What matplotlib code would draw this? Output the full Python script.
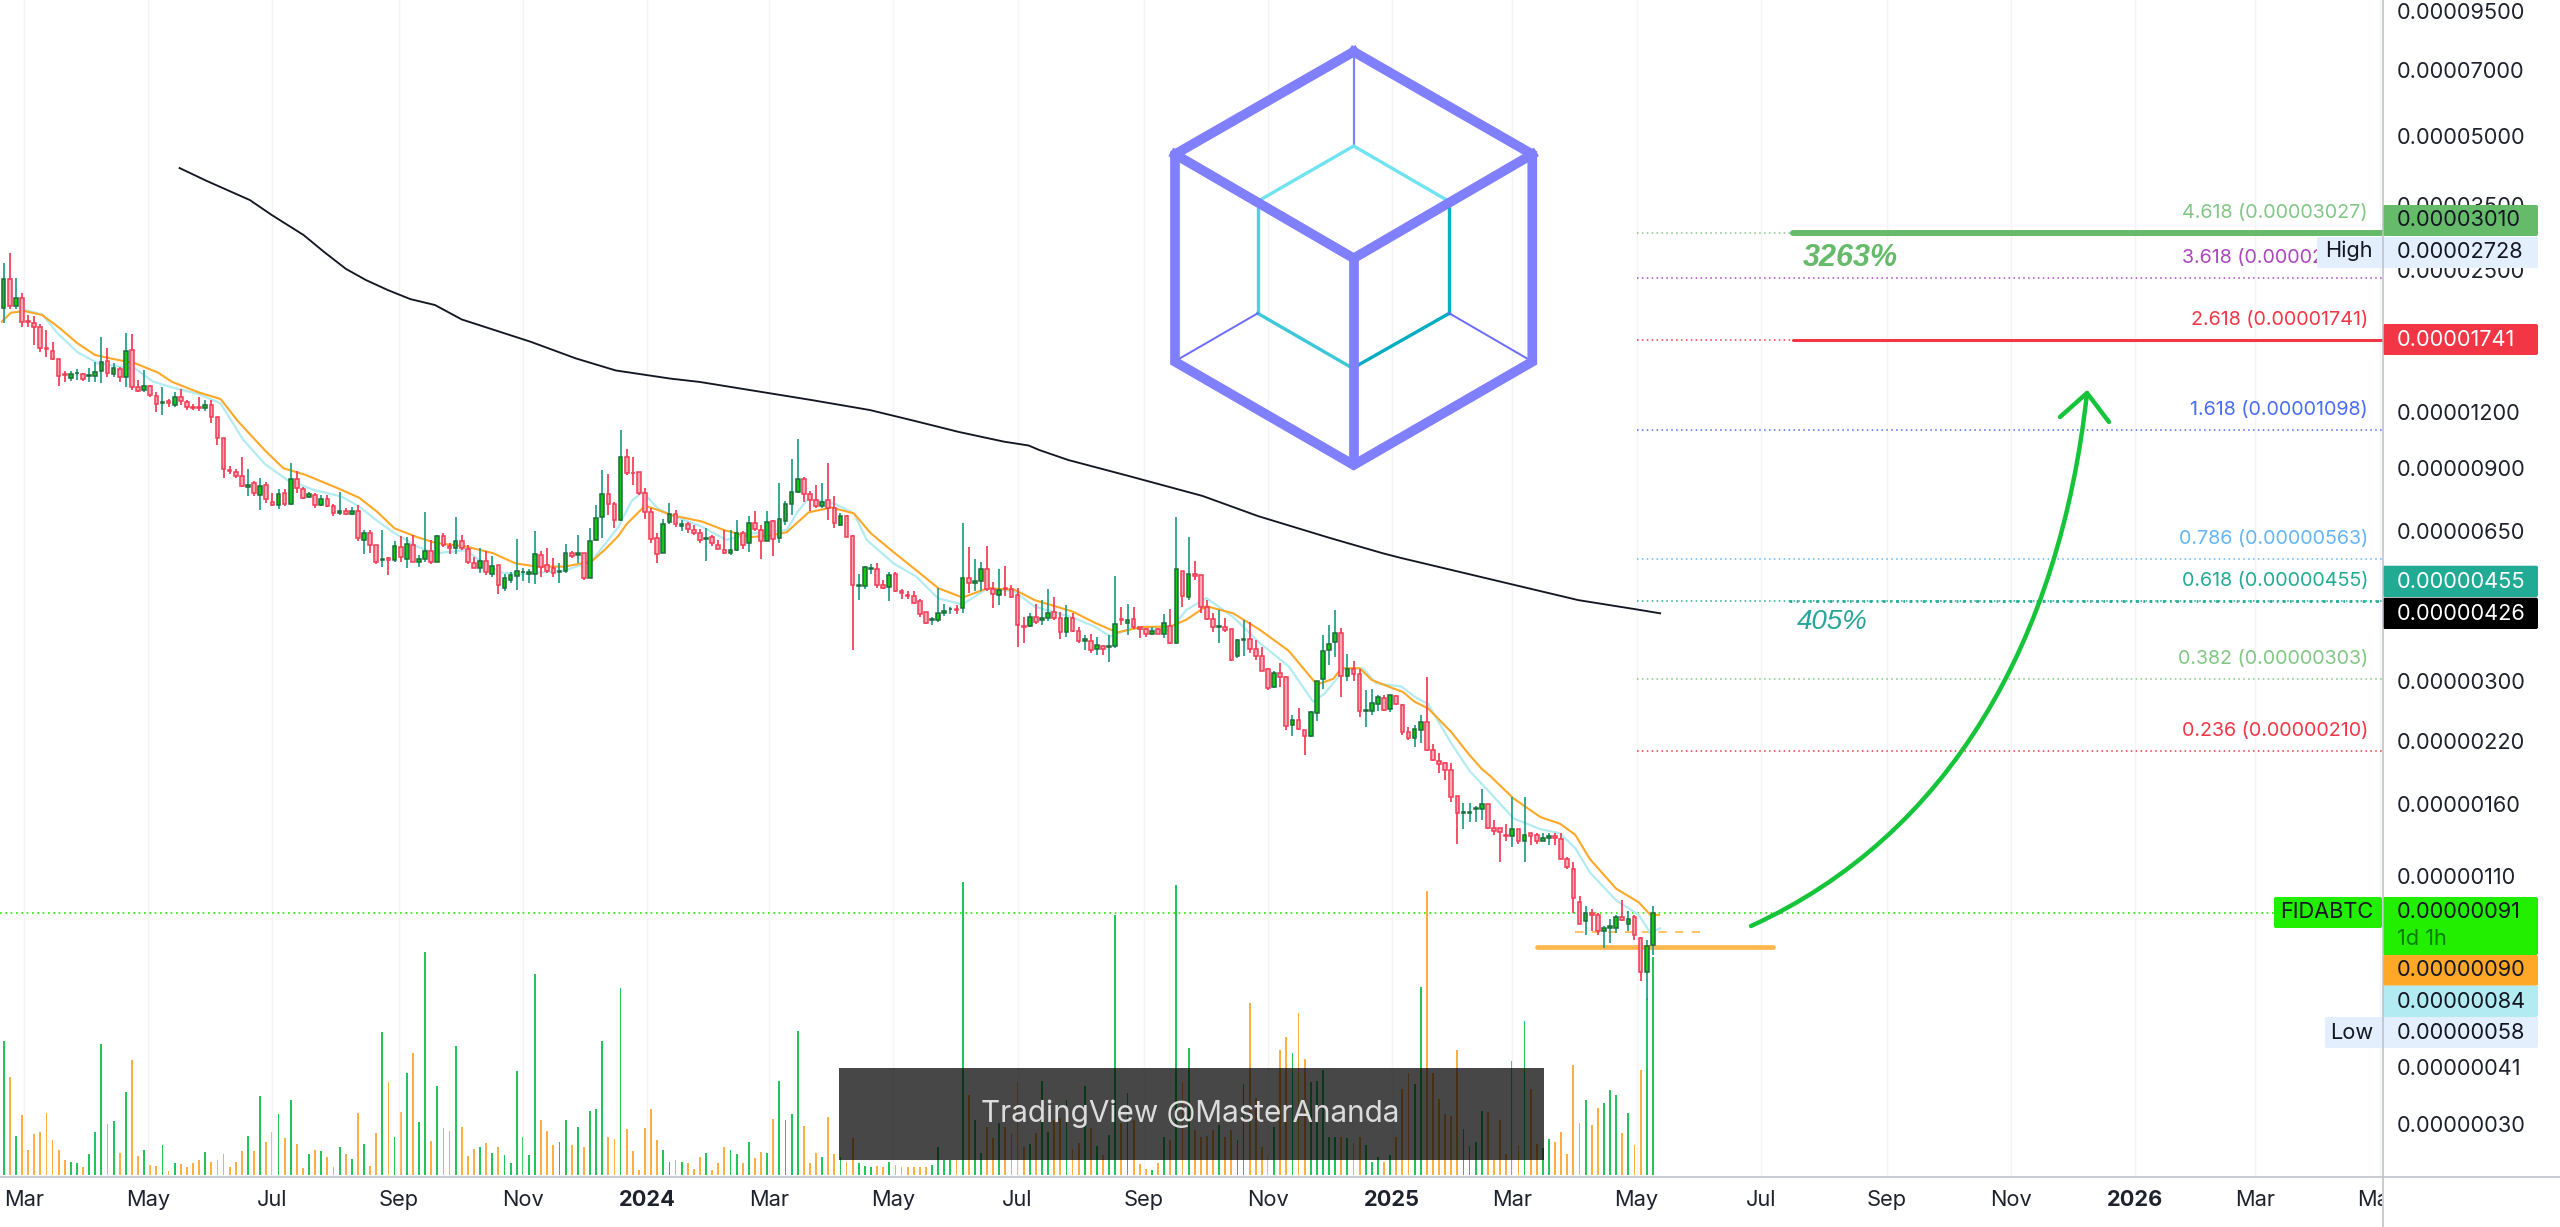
import matplotlib
matplotlib.use('Agg')
import matplotlib.pyplot as plt
import matplotlib.dates as mdates
import numpy as np
from matplotlib.patches import FancyBboxPatch, PathPatch, Rectangle
from matplotlib.path import Path
from matplotlib.transforms import Bbox

plt.rcParams['font.family'] = ['Inter', 'DejaVu Sans']

# FIDABTC, 3 day candles, prices in satoshi (1e-8 BTC)
open_px = [
    2052, 2387, 2077, 2164, 1926, 1907, 1860, 1670, 1650, 1578,
    1460, 1435, 1468, 1463, 1448, 1448, 1482, 1565, 1465, 1500,
    1442, 1652, 1371, 1347, 1378, 1308, 1260, 1270, 1250, 1297,
    1264, 1237, 1237, 1225, 1245, 1170, 1053, 892, 881, 863,
    816, 833, 786, 824, 758, 744, 794, 747, 853, 808,
    775, 783, 743, 768, 741, 713, 721, 712, 721, 623,
    644, 606, 560, 568, 562, 601, 564, 606, 556, 565,
    586, 556, 635, 604, 596, 620, 594, 552, 537, 558,
    522, 547, 486, 506, 516, 526, 523, 523, 576, 546,
    537, 528, 529, 581, 574, 581, 512, 622, 699, 790,
    748, 689, 952, 880, 883, 791, 718, 628, 582, 682,
    712, 668, 675, 656, 646, 626, 631, 607, 591, 580,
    591, 643, 611, 677, 654, 620, 684, 628, 687, 747,
    797, 853, 790, 764, 742, 764, 735, 670, 702, 635,
    490, 490, 535, 534, 494, 489, 523, 478, 469, 465,
    453, 429, 411, 412, 426, 435, 436, 437, 511, 497,
    502, 536, 484, 468, 486, 484, 468, 400, 399, 417,
    411, 415, 430, 416, 387, 415, 389, 370, 369, 354,
    360, 358, 360, 413, 405, 414, 397, 393, 383, 392,
    382, 400, 365, 530, 464, 522, 518, 440, 413, 398,
    396, 392, 341, 372, 373, 354, 342, 320, 291, 313,
    307, 240, 246, 233, 226, 255, 303, 352, 367, 385,
    309, 319, 311, 258, 258, 267, 276, 260, 278, 266,
    231, 224, 234, 243, 211, 199, 197, 190, 166, 152,
    152, 155, 155, 159, 141, 141, 136, 135, 140, 132,
    137, 136, 132, 134, 135, 133, 120, 114, 96, 87,
    91, 90, 83, 84, 84, 89, 86, 89, 80, 67,
    77]
high_px = [
    2597, 2735, 2400, 2217, 1983, 1971, 1895, 1835, 1728, 1580,
    1483, 1483, 1503, 1468, 1511, 1560, 1767, 1675, 1546, 1519,
    1804, 1795, 1419, 1490, 1383, 1335, 1371, 1287, 1330, 1352,
    1280, 1254, 1297, 1280, 1280, 1170, 1053, 910, 898, 955,
    898, 843, 858, 840, 791, 808, 808, 923, 887, 816,
    798, 791, 784, 784, 749, 798, 732, 737, 745, 655,
    653, 606, 656, 570, 617, 636, 630, 637, 576, 720,
    622, 638, 646, 612, 701, 638, 606, 569, 598, 588,
    572, 547, 521, 527, 625, 538, 535, 650, 586, 597,
    566, 552, 610, 586, 638, 581, 660, 746, 890, 873,
    758, 1095, 993, 955, 883, 812, 733, 644, 692, 752,
    725, 689, 683, 672, 658, 662, 637, 622, 654, 654,
    689, 652, 703, 723, 672, 723, 689, 832, 760, 944,
    1048, 861, 801, 825, 836, 925, 780, 713, 706, 637,
    523, 544, 549, 553, 506, 528, 527, 484, 477, 479,
    458, 430, 419, 485, 448, 441, 444, 680, 601, 565,
    554, 603, 500, 536, 544, 494, 485, 418, 426, 448,
    456, 483, 464, 429, 444, 426, 396, 381, 383, 378,
    361, 381, 516, 440, 448, 441, 398, 395, 398, 395,
    424, 436, 701, 531, 632, 558, 520, 456, 426, 433,
    416, 392, 373, 412, 408, 371, 359, 322, 316, 330,
    308, 252, 262, 233, 257, 301, 380, 402, 433, 395,
    345, 333, 320, 287, 288, 280, 279, 280, 280, 267,
    237, 239, 252, 307, 217, 207, 198, 197, 166, 160,
    160, 158, 172, 159, 147, 141, 144, 165, 140, 165,
    137, 137, 137, 137, 137, 137, 121, 118, 99, 94,
    93, 91, 85, 88, 90, 97, 92, 90, 80.5, 79,
    94]
low_px = [
    1900, 2045, 2045, 1860, 1860, 1698, 1640, 1595, 1572, 1375,
    1405, 1410, 1419, 1412, 1405, 1405, 1394, 1437, 1442, 1405,
    1365, 1350, 1335, 1335, 1297, 1205, 1185, 1233, 1237, 1248,
    1216, 1216, 1212, 1212, 1138, 1015, 858, 874, 855, 816,
    780, 780, 726, 751, 741, 729, 741, 744, 791, 767,
    771, 733, 741, 737, 702, 708, 708, 708, 618, 577,
    581, 549, 542, 518, 556, 556, 538, 554, 540, 556,
    549, 554, 600, 579, 579, 591, 549, 537, 524, 519,
    515, 470, 479, 497, 480, 502, 497, 495, 515, 524,
    515, 497, 524, 566, 552, 506, 510, 620, 628, 708,
    660, 684, 870, 824, 786, 692, 613, 552, 581, 675,
    664, 650, 644, 637, 613, 559, 602, 593, 578, 576,
    587, 593, 585, 652, 563, 617, 573, 613, 670, 707,
    791, 758, 723, 732, 732, 689, 660, 667, 630, 352,
    456, 484, 523, 486, 484, 454, 476, 458, 458, 447,
    419, 403, 401, 407, 420, 424, 424, 426, 472, 477,
    479, 478, 437, 444, 465, 462, 358, 366, 396, 403,
    401, 409, 412, 374, 378, 387, 366, 352, 347, 344,
    344, 331, 356, 402, 380, 392, 376, 378, 380, 382,
    376, 364, 364, 441, 456, 506, 426, 412, 387, 365,
    387, 334, 338, 341, 347, 335, 316, 287, 290, 292,
    234, 226, 233, 205, 225, 245, 289, 327, 340, 277,
    300, 300, 250, 237, 252, 258, 258, 256, 265, 227,
    222, 214, 218, 210, 199, 187, 180, 161, 130, 140,
    145, 145, 147, 140, 136, 118, 132, 128, 130, 118,
    129, 130, 132, 129, 129, 120, 114, 91, 86, 81,
    83, 81, 76, 78, 82, 87, 83, 79, 64, 58,
    73]
close_px = [
    2387, 2077, 2164, 1916, 1913, 1860, 1670, 1661, 1580, 1450,
    1452, 1460, 1473, 1425, 1453, 1480, 1560, 1468, 1506, 1442,
    1650, 1371, 1342, 1378, 1310, 1252, 1264, 1260, 1297, 1270,
    1231, 1227, 1229, 1245, 1174, 1053, 898, 885, 866, 820,
    827, 794, 823, 767, 744, 790, 747, 853, 812, 771,
    790, 745, 768, 741, 714, 721, 711, 721, 628, 644,
    606, 555, 564, 562, 602, 569, 609, 556, 565, 586,
    556, 633, 606, 596, 620, 596, 554, 538, 558, 528,
    544, 494, 510, 518, 531, 528, 526, 577, 541, 531,
    524, 531, 580, 571, 581, 510, 620, 698, 790, 748,
    689, 952, 877, 877, 794, 718, 625, 579, 675, 712,
    675, 675, 659, 646, 622, 628, 612, 595, 580, 590,
    643, 607, 677, 657, 620, 683, 624, 691, 750, 798,
    853, 790, 763, 741, 758, 735, 680, 702, 630, 494,
    492, 541, 537, 494, 486, 518, 478, 474, 465, 450,
    425, 405, 413, 426, 432, 436, 434, 510, 498, 502,
    534, 484, 471, 481, 484, 464, 402, 396, 418, 408,
    416, 426, 415, 386, 415, 388, 370, 373, 353, 361,
    355, 360, 403, 411, 412, 398, 393, 382, 389, 383,
    405, 365, 535, 465, 522, 517, 440, 413, 397, 399,
    391, 335, 372, 373, 355, 342, 317, 290, 313, 306,
    238, 246, 235, 226, 256, 300, 351, 364, 385, 309,
    319, 311, 257, 259, 268, 277, 259, 279, 267, 231,
    224, 235, 243, 211, 200, 196, 190, 165, 152, 153,
    153, 156, 159, 141, 139, 138, 135, 140, 132, 136,
    135, 132, 134, 135, 134, 120, 115, 98, 86, 91,
    90, 83, 84, 85, 89, 87.5, 88, 81, 67, 76.5,
    91]
volume = [
    402, 293, 118, 180, 75, 123, 128, 185, 105, 75,
    45, 40, 35, 25, 62, 130, 393, 152, 161, 65,
    250, 345, 57, 75, 30, 27, 89, 13, 37, 33,
    25, 37, 45, 68, 38, 45, 64, 23, 38, 72,
    116, 73, 237, 99, 130, 183, 111, 224, 93, 20,
    63, 74, 71, 55, 25, 83, 63, 47, 185, 93,
    27, 125, 428, 279, 113, 188, 307, 367, 159, 670,
    102, 267, 140, 131, 386, 144, 57, 77, 83, 97,
    65, 85, 60, 35, 311, 114, 61, 603, 166, 133,
    90, 99, 164, 90, 143, 85, 192, 198, 402, 114,
    109, 560, 138, 73, 14, 140, 197, 105, 75, 40,
    45, 40, 35, 19, 54, 66, 15, 35, 83, 75,
    64, 35, 99, 50, 69, 66, 167, 283, 164, 183,
    431, 147, 35, 66, 54, 173, 64, 53, 40, 112,
    35, 28, 25, 28, 23, 39, 30, 23, 25, 25,
    23, 23, 30, 83, 45, 45, 45, 878, 240, 165,
    65, 145, 110, 155, 145, 125, 279, 85, 92, 125,
    281, 130, 165, 170, 225, 77, 95, 267, 140, 87,
    60, 120, 780, 155, 245, 165, 33, 17, 15, 35,
    115, 105, 871, 280, 381, 135, 115, 118, 135, 150,
    115, 135, 105, 273, 515, 230, 85, 57, 145, 374,
    414, 365, 485, 347, 279, 282, 314, 115, 115, 115,
    110, 95, 115, 90, 40, 55, 40, 59, 115, 259,
    305, 273, 565, 852, 307, 228, 182, 177, 376, 137,
    87, 100, 192, 188, 45, 165, 62, 342, 90, 461,
    257, 93, 80, 107, 99, 128, 62, 330, 155, 224,
    150, 202, 216, 254, 240, 126, 185, 90, 314, 530,
    655]

# moving averages, read at their bends: bar number and price
orange_bar = [0.7, 2.2, 4.4, 7.3, 10.2, 13.1, 16, 19, 22.6, 26.3, 28.5, 32.9, 36.5, 39.4, 43.8, 46.8, 50.4,
              55.5, 59.2, 62.1, 65, 68.7, 71.6, 76.7, 81.1, 84.8, 88.4, 92.8, 97.2, 99.4, 101.6, 103, 106,
              108.2, 110.4, 115.3, 119, 123.3, 126.3, 129.2, 131.4, 132.8, 136.5, 140.2, 143, 146.7, 150.4,
              154, 158, 162.1, 166.5, 169.8, 176, 179.6, 183.3, 187.3, 192, 194.6, 197.9, 202.3, 206.7,
              211.4, 216, 218.7, 220, 223, 225, 228, 230.1, 232, 234.2, 238, 241, 243, 244.4, 248.2, 252.6,
              255.8, 258.3, 260.7, 265, 268.7, 270.6, 272]
orange_val = [1916, 2007, 2024, 1983, 1852, 1713, 1613, 1580, 1545, 1473, 1406, 1331, 1286, 1145, 986, 900, 870,
              814, 773, 720, 660, 631, 613, 601, 581, 551, 542, 542, 556, 591, 634, 675, 742,
              725, 706, 684, 654, 631, 636, 647, 689, 717, 735, 713, 643, 584, 532,
              485, 462, 485, 481, 456, 430, 406, 386, 397, 398, 412, 442, 426, 391,
              351, 295, 304, 321, 321, 302, 291, 284, 270, 261, 231, 205, 191, 184, 164, 149,
              144, 136, 120, 103, 96, 90, 90]
blue_bar = [4.4, 7.3, 9.8, 13.1, 16.4, 22.6, 25.5, 28.5, 32.9, 36.5, 40.2, 43.8, 47.5, 51.9, 56.3, 59.2, 62.1,
            65, 68.7, 71.6, 76.7, 79.6, 82.6, 86.2, 92.8, 97.2, 101.6, 103.8, 105.6, 108.2, 110.4, 115.3,
            119.3, 123.3, 126.3, 129.2, 131, 132.8, 137.2, 140.2, 142.3, 146.7, 150.4, 154, 158, 162.1, 166.5,
            169.8, 176, 179.6, 182.2, 185.5, 192, 194.6, 197.9, 202.3, 206.7, 211.4, 215.4, 217.3, 220.6,
            223.5, 225.7, 229.9, 232, 234.2, 238, 241, 244, 248.2, 252.6, 255.8, 258.3, 260.7, 265, 268.7,
            270.6, 272.2]
blue_val = [2036, 1990, 1806, 1637, 1547, 1501, 1406, 1366, 1320, 1258, 1043, 919, 846, 804, 778, 739, 687,
            644, 601, 580, 590, 551, 525, 522, 531, 556, 664, 760, 796, 730, 706, 666,
            622, 643, 648, 654, 720, 770, 748, 713, 622, 551, 515, 460, 446, 485, 477,
            441, 417, 398, 378, 394, 390, 433, 461, 418, 365, 324, 270, 282, 320,
            321, 297, 292, 277, 267, 218, 189, 171, 148, 140, 137, 127, 112, 97, 90,
            82, 84]
black_bar = [29.8, 34.3, 41.3, 44.9, 50.1, 53.4, 57, 60.3, 63.9, 67.6, 71.6, 76, 87.3, 94.7, 101.2, 110.1, 115,
             133.3, 142.8, 150, 157.4, 164.8, 168.8, 170.6, 175.3, 185.3, 197.3, 206.4, 218, 226.9, 229.7,
             258.8, 268.2, 272.2]
black_val = [4230, 3955, 3587, 3320, 2995, 2749, 2517, 2375, 2255, 2152, 2088, 1938, 1727, 1585, 1490, 1429, 1404,
             1279, 1215, 1150, 1085, 1032, 1012, 988, 939, 864, 780, 703, 629, 580, 567,
             456, 435, 426]

# fib levels
fib_names = ['4.618', '3.618', '2.618', '1.618', '0.786', '0.618', '0.382', '0.236']
fib_vals = [3027, 2399, 1741, 1098, 563, 455, 303, 210]
fib_text = ['0.00003027', '0.00002399', '0.00001741', '0.00001098', '0.00000563', '0.00000455', '0.00000303', '0.00000210']
fib_colors = ['#81c784', '#ab47bc', '#f23645', '#4a6cf7', '#64b5f6', '#22ab94', '#81c784', '#f23645']

y_ticks = [9500, 7000, 5000, 3500, 2500, 1200, 900, 650, 300, 220, 159, 110, 41, 30.7]
y_labels = ['0.00009500', '0.00007000', '0.00005000', '0.00003500', '0.00002500', '0.00001200', '0.00000900',
            '0.00000650', '0.00000300', '0.00000220', '0.00000160', '0.00000110', '0.00000041', '0.00000030']
x_ticks = ['2023-03-01', '2023-05-01', '2023-07-01', '2023-09-01', '2023-11-01', '2024-01-01', '2024-03-01',
           '2024-05-01', '2024-07-01', '2024-09-01', '2024-11-01', '2025-01-01', '2025-03-01', '2025-05-01',
           '2025-07-01', '2025-09-01', '2025-11-01', '2026-01-01', '2026-03-01', '2026-05-01']
x_labels = ['Mar', 'May', 'Jul', 'Sep', 'Nov', '2024', 'Mar', 'May', 'Jul', 'Sep', 'Nov', '2025', 'Mar', 'May',
            'Jul', 'Sep', 'Nov', '2026', 'Mar', 'May']

GREEN_FILL = '#12c912'
GREEN_EDGE = '#1b6b3a'
GREEN_WICK = '#1f9e85'
RED_FILL = '#ffa8b6'
RED_EDGE = '#f23a55'
VOL_UP = '#22c55a'
VOL_DOWN = '#ffae42'
TEXT = '#1e222d'
FS = 15.7

W, H = 2560, 1227
fig = plt.figure(figsize=(W / 100, H / 100), dpi=100, facecolor='white')
rect = [0, (H - 1177) / H, 2382.5 / W, 1177 / H]
ax = fig.add_axes(rect)
ax_vol = ax.twinx()
ax.set_zorder(ax_vol.get_zorder() + 1)
ax.patch.set_visible(False)
ax_vol.patch.set_facecolor('white')
ax_vol.patch.set_visible(True)

start = mdates.date2num(np.datetime64('2023-02-19'))
base = mdates.date2num(np.datetime64('2023-03-01'))
bar_dates = start + 3 * np.arange(len(open_px))


def bar_to_date(bars):
    return start + 3 * (np.array(bars, dtype=float) - 1)


o = np.array(open_px, dtype=float)
h = np.array(high_px, dtype=float)
l = np.array(low_px, dtype=float)
c = np.array(close_px, dtype=float)
up = c >= o

# volume
ax_vol.bar(bar_dates, volume, width=0.9, color=[VOL_UP if u else VOL_DOWN for u in up], linewidth=0)
ax_vol.set_ylim(-6, 3525)
ax_vol.get_yaxis().set_visible(False)

# fib lines
fib_start = mdates.date2num(np.datetime64('2025-05-01'))
x_left, x_right = base - 11.8, base + 1158.4
for val, col in zip(fib_vals, fib_colors):
    ax.plot([fib_start, x_right], [val, val], color=col, lw=1.1, ls=(0, (1, 2.2)), zorder=2)
for name, val, txt, col in zip(fib_names, fib_vals, fib_text, fib_colors):
    ax.annotate(f'{name} ({txt})', xy=(1, val), xycoords=('axes fraction', 'data'),
                xytext=(-14.5 * 0.72, 20 * 0.72), textcoords='offset points',
                ha='right', va='center', color=col, fontsize=14.2, zorder=3)

line_start = mdates.date2num(np.datetime64('2025-07-17'))
ax.plot([line_start, x_right], [3027, 3027], color='#66bb6a', lw=4.3, solid_capstyle='round', zorder=3)
ax.plot([line_start, x_right], [1741, 1741], color='#f23645', lw=2.2, solid_capstyle='round', zorder=3)
ax.plot([line_start - 2, x_right], [455, 455], color='#22ab94', lw=2.0, ls=(0, (1, 1.6, 0.6, 1.6)), zorder=2)

# last price and the support lines
ax.plot([x_left, x_right], [91, 91], color='#22ee00', lw=1.2, ls=(0, (1, 2.2)), zorder=2)
ax.plot(mdates.date2num(np.array(['2025-03-13', '2025-07-07'], dtype='datetime64[D]')), [76.3, 76.3],
        color='#ffb74d', lw=3.4, solid_capstyle='round', zorder=4)
ax.plot(mdates.date2num(np.array(['2025-04-01', '2025-06-04'], dtype='datetime64[D]')), [82.3, 82.3],
        color='#ffb74d', lw=1.2, ls=(0, (5, 5)), zorder=2)

# moving averages
ax.plot(bar_to_date(black_bar), black_val, color='#131722', lw=1.35, zorder=3)
ax.plot(bar_to_date(blue_bar), blue_val, color='#b2ebf2', lw=1.6, zorder=3)
ax.plot(bar_to_date(orange_bar), orange_val, color='#ffa726', lw=1.5, zorder=3)

# candles
ax.vlines(bar_dates[up], l[up], h[up], color=GREEN_WICK, lw=1.25, zorder=4)
ax.vlines(bar_dates[~up], l[~up], h[~up], color=RED_EDGE, lw=1.25, zorder=4)
ax.bar(bar_dates[up], (c - o)[up], bottom=o[up], width=1.8, color=GREEN_FILL, edgecolor=GREEN_EDGE, linewidth=1.1, zorder=5)
ax.bar(bar_dates[~up], (o - c)[~up], bottom=c[~up], width=1.8, color=RED_FILL, edgecolor=RED_EDGE, linewidth=1.1, zorder=5)

ax.set_yscale('log')
ax.set_xlim(x_left, x_right)
ax.set_ylim(23.3, 10060)
ax_vol.set_xlim(x_left, x_right)

ax.yaxis.tick_right()
ax.set_yticks(y_ticks)
ax.set_yticklabels(y_labels)
ax.minorticks_off()
ax.tick_params(axis='y', which='both', length=0, pad=10.4, labelsize=FS, labelcolor=TEXT)
ax.set_xticks(mdates.date2num(np.array(x_ticks, dtype='datetime64[D]')))
ax.set_xticklabels(x_labels)
ax.tick_params(axis='x', length=0, pad=9.5, labelsize=FS, labelcolor=TEXT)
ax_vol.tick_params(axis='x', length=0)
ax.grid(axis='x', color='#f4f4f8', lw=1.0)
ax.grid(axis='y', visible=False)
ax.set_axisbelow(True)
for lbl in ax.get_xticklabels():
    if lbl.get_text().startswith('20'):
        lbl.set_fontweight('bold')
    lbl.set_clip_on(True)
    lbl.set_clip_box(Bbox.from_extents(0, 0, 2382, 60))
for a in (ax, ax_vol):
    for s in a.spines.values():
        s.set_visible(False)

# everything below is pinned to the screen, in pixels
ov = fig.add_axes([0, 0, 1, 1], zorder=10)
ov.set_xlim(0, W)
ov.set_ylim(H, 0)
ov.axis('off')

ov.plot([0, W], [1177, 1177], color='#bcbec9', lw=1.1)
ov.plot([2382.5, 2382.5], [0, H], color='#bcbec9', lw=1.1)

# watermark
ov.add_patch(Rectangle((838.5, 1067.5), 705.5, 92.5, facecolor=(0, 0, 0, 0.72), edgecolor='none'))
ov.text(1190, 1114, 'TradingView @MasterAnanda', ha='center', va='center', color='#dcdcdc', fontsize=21.4)

# logo
ov.plot([1353.7, 1353.7], [51.7, 146], color='#8080ff', lw=1.6)
ov.plot([1260, 1353.7, 1446.7], [200, 146, 200], color='#70e3f0', lw=2.4)
ov.plot([1257.7, 1257.7], [206, 313.3], color='#4dd0e1', lw=2.4)
ov.plot([1257.7, 1350], [313.3, 366.7], color='#3cc8d8', lw=2.4)
ov.plot([1449.3, 1449.3], [206, 313.3], color='#0aafc8', lw=2.4)
ov.plot([1449.3, 1358.3], [313.3, 365], color='#00acc1', lw=2.4)
ov.plot([1257.7, 1180], [313.3, 358.3], color='#6b6bff', lw=1.4)
ov.plot([1449.3, 1526.7], [313.3, 358.3], color='#6b6bff', lw=1.4)
hex_x = [1353.7, 1532.3, 1532.3, 1353.7, 1175, 1175, 1353.7]
hex_y = [51.7, 154.3, 361.7, 465, 361.7, 154.3, 51.7]
ov.plot(hex_x, hex_y, color='#8080ff', lw=7, solid_joinstyle='miter')
ov.plot([1175, 1353.7, 1532.3], [154.3, 258.3, 154.3], color='#8080ff', lw=7, solid_joinstyle='miter')
ov.plot([1353.7, 1353.7], [258.3, 465], color='#8080ff', lw=7, solid_capstyle='butt')

# drawn arrow
arrow = Path([(1751, 926), (1950, 835), (2060, 640), (2087, 393)],
             [Path.MOVETO, Path.CURVE4, Path.CURVE4, Path.CURVE4])
ov.add_patch(PathPatch(arrow, facecolor='none', edgecolor='#16c43a', lw=3.2, capstyle='round'))
ov.plot([2060, 2087, 2109], [417, 393, 422], color='#16c43a', lw=3.2, solid_capstyle='round')

ov.text(1803, 258, '3263%', ha='left', va='center', color='#66bb6a', fontsize=22,
        fontweight='bold', style='italic', family='Liberation Sans')
ov.text(1797, 622, '405%', ha='left', va='center', color='#26a69a', fontsize=20,
        style='italic', family='Liberation Sans')


def tag(x0, x1, y0, y1, col):
    ov.add_patch(FancyBboxPatch((x0, y0), x1 - x0, y1 - y0, boxstyle='round,pad=0,rounding_size=2',
                                facecolor=col, edgecolor='none'))


def label(x, y, txt, col='#131722', ha='left', **kw):
    ov.text(x, y, txt, ha=ha, va='center', color=col, fontsize=FS, **kw)


tag(2383, 2538, 205, 236, '#66bb6a')
label(2397, 220.5, '0.00003010')
tag(2317, 2538, 237, 268, '#e3effd')
label(2373, 251, 'High', ha='right')
label(2397, 252, '0.00002728')
tag(2383, 2538, 324, 355, '#f23645')
label(2397, 340, '0.00001741', col='white')
tag(2383, 2538, 565.7, 597, '#22ab94')
label(2397, 582, '0.00000455', col='white')
tag(2383, 2538, 597.7, 629, '#000000')
label(2397, 613.5, '0.00000426', col='white')
tag(2274, 2382, 897, 928, '#22ee00')
label(2373, 912.5, 'FIDABTC', ha='right')
tag(2383, 2538, 897, 955, '#22ee00')
label(2397, 912.5, '0.00000091')
label(2397, 939, '1d 1h', col='#0b7d00')
tag(2383, 2538, 955, 985.7, '#ffa726')
label(2397, 970, '0.00000090')
tag(2383, 2538, 985.7, 1017, '#b2ebf2')
label(2397, 1001.5, '0.00000084')
tag(2325, 2538, 1017, 1048, '#e3effd')
label(2373, 1033, 'Low', ha='right')
label(2397, 1033, '0.00000058')

fig.savefig('out.png', dpi=100)
